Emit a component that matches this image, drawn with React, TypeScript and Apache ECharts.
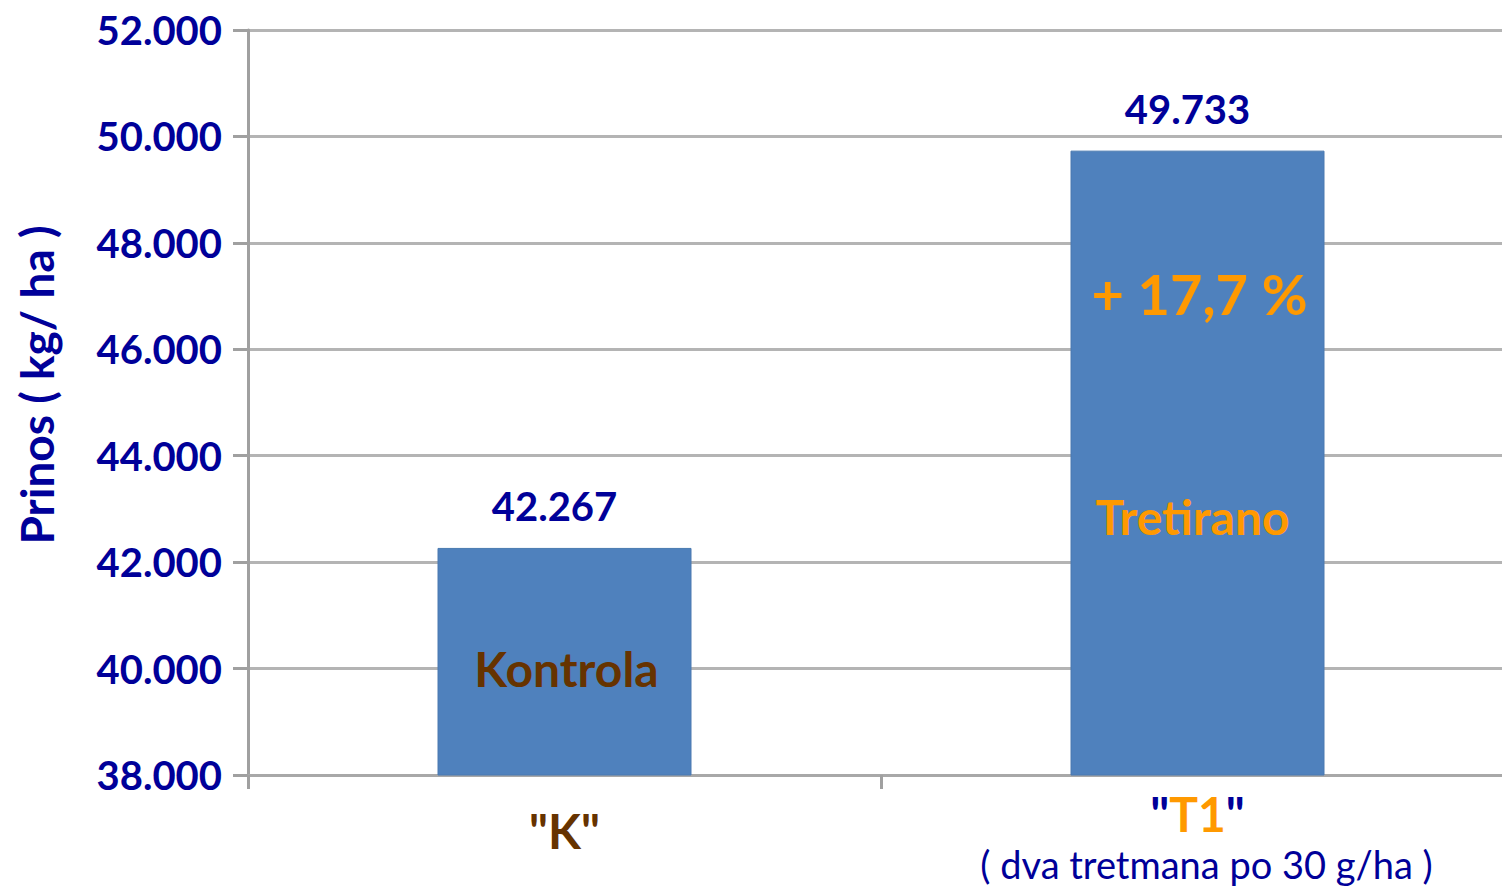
import React, { useEffect, useRef } from "react";
import * as echarts from "echarts";

const categories = ["K", "T1"];
const subtitles = ["", "( dva tretmana po 30 g/ha )"];
const yields = [42267, 49733];
const yMin = 38000;
const yMax = 52000;
const yInterval = 2000;
const innerLabels = [
  { cat: 0, value: 40000, text: "Kontrola", kind: "k" },
  { cat: 1, value: 47000, text: "+ 17,7 %", kind: "pct" },
  { cat: 1, value: 42850, text: "Tretirano", kind: "t" },
];
const yAxisTitle = "Prinos ( kg/ ha )";

const BLUE = "#000099";
const BROWN = "#663300";
const ORANGE = "#FF9900";
const BAR = "#4F81BD";
const FONT = "Lato, 'Open Sans', sans-serif";

const fmt = (v: number) => {
  const s = Math.round(v).toString();
  return s.replace(/\B(?=(\d{3})+(?!\d))/g, ".");
};

export default function App() {
  const ref = useRef<HTMLDivElement>(null);
  useEffect(() => {
    if (!ref.current) return;
    const chart = echarts.init(ref.current, null, { renderer: "svg" });
    const labelStyles: Record<string, any> = {
      k: { color: BROWN, fontSize: 48, fontWeight: "bold", offset: [2, 0] },
      pct: { color: ORANGE, fontSize: 56, fontWeight: "bold", offset: [2, -3] },
      t: { color: ORANGE, fontSize: 48, fontWeight: "bold", offset: [-5, 0] },
    };
    chart.setOption({
      animation: false,
      textStyle: { fontFamily: FONT },
      grid: { left: 248, right: -12, top: 30, bottom: 116, containLabel: false, outerBoundsMode: "none" },
      xAxis: {
        type: "category",
        data: categories,
        axisLine: { show: true, lineStyle: { color: "#a8a8a8", width: 3 } },
        axisTick: { show: true, alignWithLabel: false, length: 14, lineStyle: { color: "#a0a0a0", width: 3 } },
        axisLabel: {
          margin: 6,
          interval: 0,
          formatter: (v: string, i: number) => {
            if (subtitles[i]) {
              return `{q|"}{t|${v}}{q|"}\n{s|${subtitles[i]}}`;
            }
            return `{k|"${v}"}`;
          },
          rich: {
            k: { color: BROWN, fontSize: 48, fontWeight: "bold", lineHeight: 98, fontFamily: FONT },
            q: { color: BLUE, fontSize: 48, fontWeight: "bold", lineHeight: 64, fontFamily: FONT },
            t: { color: ORANGE, fontSize: 48, fontWeight: "bold", lineHeight: 64, fontFamily: FONT },
            s: { color: BLUE, fontSize: 38, lineHeight: 38, fontFamily: FONT, padding: [0, 0, 0, 18] },
          },
        },
        splitLine: { show: false },
      },
      yAxis: {
        type: "value",
        min: yMin,
        max: yMax,
        interval: yInterval,
        axisLine: { show: true, lineStyle: { color: "#a0a0a0", width: 3 } },
        axisTick: { show: true, length: 15, lineStyle: { color: "#a0a0a0", width: 3 } },
        axisLabel: {
          margin: 26,
          color: BLUE,
          fontSize: 40,
          fontWeight: "bold",
          fontFamily: FONT,
          formatter: (v: number) => fmt(v),
        },
        splitLine: { show: true, lineStyle: { color: "#b4b4b4", width: 3 } },
      },
      graphic: [
        {
          type: "text",
          x: 36,
          y: 385,
          rotation: Math.PI / 2,
          style: {
            text: yAxisTitle,
            fill: BLUE,
            fontSize: 46,
            fontWeight: "bold",
            fontFamily: FONT,
            textAlign: "center",
            textVerticalAlign: "middle",
          },
        },
      ],
      series: [
        {
          type: "bar",
          data: yields,
          barWidth: 254,
          itemStyle: { color: BAR, borderColor: "#4a79b0", borderWidth: 1 },
          label: {
            show: true,
            position: "top",
            distance: 22,
            offset: [-10, 0],
            color: BLUE,
            fontSize: 40,
            fontWeight: "bold",
            fontFamily: FONT,
            formatter: (p: any) => fmt(p.value),
          },
          markPoint: {
            symbol: "circle",
            symbolSize: 1,
            itemStyle: { color: "transparent" },
            data: innerLabels.map((l) => ({
              coord: [l.cat, l.value],
              label: {
                show: true,
                position: "inside",
                formatter: l.text,
                fontFamily: FONT,
                ...labelStyles[l.kind],
              },
            })),
          },
        },
      ],
    });
    return () => chart.dispose();
  }, []);
  return (
    <div
      ref={ref}
      style={{ position: "absolute", left: 0, top: 0, width: 1502, height: 891, background: "#fff" }}
    />
  );
}
